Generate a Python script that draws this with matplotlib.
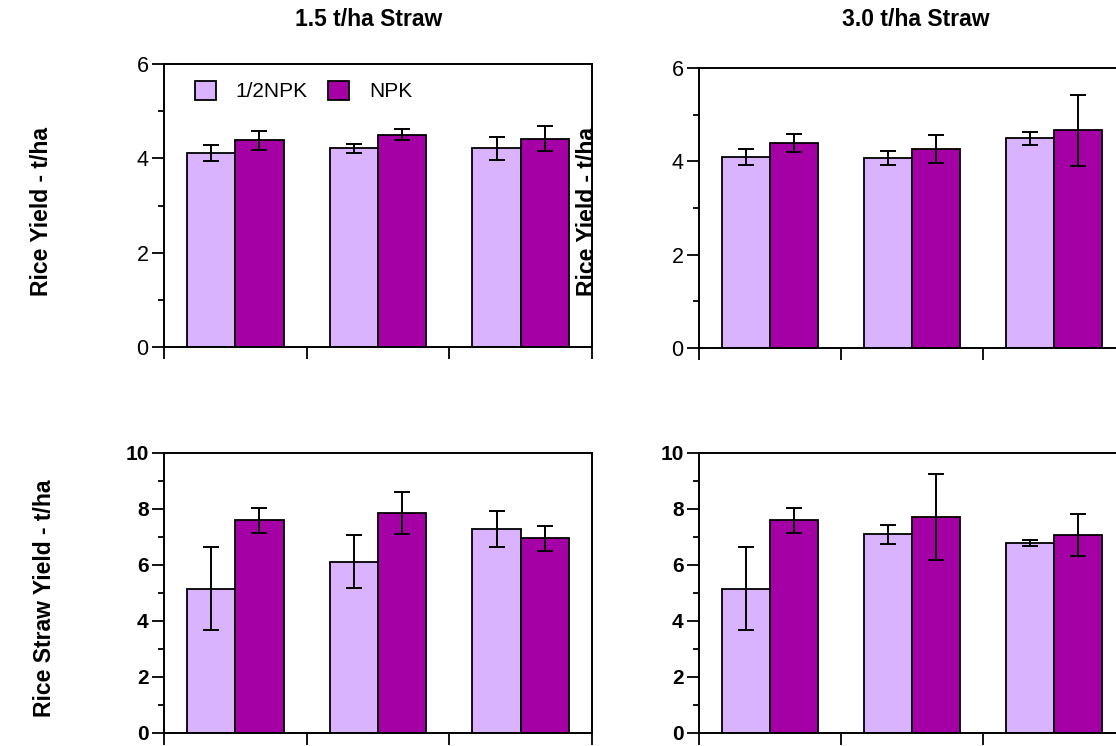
import matplotlib
matplotlib.use("Agg")
import matplotlib.pyplot as plt
from matplotlib.patches import Patch
from matplotlib.ticker import MultipleLocator, NullFormatter
import numpy as np

plt.rcParams['font.family'] = ['Liberation Sans', 'DejaVu Sans']

series = ["1/2NPK", "NPK"]
colors = ["#D9B3FE", "#A500A5"]
n_groups = 3

# Top-left: Rice yield, 1.5 t/ha straw
ry15_half = [4.12, 4.21, 4.21]
ry15_half_err = [0.17, 0.10, 0.25]
ry15_npk = [4.38, 4.50, 4.42]
ry15_npk_err = [0.20, 0.12, 0.27]

# Top-right: Rice yield, 3.0 t/ha straw
ry30_half = [4.10, 4.07, 4.49]
ry30_half_err = [0.17, 0.15, 0.13]
ry30_npk = [4.40, 4.27, 4.67]
ry30_npk_err = [0.19, 0.30, 0.76]

# Bottom-left: Rice straw yield, 1.5 t/ha straw
rs15_half = [5.15, 6.12, 7.29]
rs15_half_err = [1.48, 0.94, 0.63]
rs15_npk = [7.60, 7.87, 6.96]
rs15_npk_err = [0.45, 0.75, 0.45]

# Bottom-right: Rice straw yield, 3.0 t/ha straw
rs30_half = [5.15, 7.10, 6.80]
rs30_half_err = [1.48, 0.34, 0.11]
rs30_npk = [7.60, 7.72, 7.07]
rs30_npk_err = [0.45, 1.53, 0.75]

titles = ["1.5 t/ha Straw", "3.0 t/ha Straw"]
ylab_top = "Rice Yield - t/ha"
ylab_bot = "Rice Straw Yield - t/ha"

W, H = 1116, 746
fig = plt.figure(figsize=(W / 100, H / 100), dpi=100)


def px_axes(l, r, t, b):
    return fig.add_axes([l / W, (H - b) / H, (r - l) / W, (b - t) / H])


def draw(ax, half, half_err, npk, npk_err, ymax, bold):
    bw = 0.338
    centers = np.arange(n_groups) + 0.5
    ekw = dict(elinewidth=1.4, capthick=1.4, ecolor="black")
    ax.bar(centers - bw / 2, half, bw, yerr=half_err, color=colors[0],
           edgecolor="black", linewidth=1.3, capsize=5.5, error_kw=ekw, zorder=2)
    ax.bar(centers + bw / 2, npk, bw, yerr=npk_err, color=colors[1],
           edgecolor="black", linewidth=1.3, capsize=5.5, error_kw=ekw, zorder=2)
    ax.set_xlim(0, n_groups)
    ax.set_ylim(0, ymax)
    ax.set_xticks(np.arange(n_groups + 1))
    ax.xaxis.set_major_formatter(NullFormatter())
    ax.yaxis.set_major_locator(MultipleLocator(2))
    ax.yaxis.set_minor_locator(MultipleLocator(1))
    ax.tick_params(axis="both", which="major", length=8.6, width=1.3,
                   direction="out", labelsize=15 if bold else 15.5, pad=2.5)
    ax.tick_params(axis="y", which="minor", length=4.5, width=1.3)
    for s in ax.spines.values():
        s.set_linewidth(1.4)
    if bold:
        for lbl in ax.get_yticklabels():
            lbl.set_fontweight("bold")


ax1 = px_axes(164, 592, 64, 347)
draw(ax1, ry15_half, ry15_half_err, ry15_npk, ry15_npk_err, 6, False)
ax2 = px_axes(699, 1125, 68, 348)
draw(ax2, ry30_half, ry30_half_err, ry30_npk, ry30_npk_err, 6, False)
ax3 = px_axes(164, 592, 453, 733)
draw(ax3, rs15_half, rs15_half_err, rs15_npk, rs15_npk_err, 10, True)
ax4 = px_axes(699, 1125, 453, 733)
draw(ax4, rs30_half, rs30_half_err, rs30_npk, rs30_npk_err, 10, True)

handles = [Patch(facecolor=c, edgecolor="black", linewidth=1.3) for c in colors]
ax1.legend(handles, series, ncol=2, frameon=False, fontsize=15,
           loc="upper left", bbox_to_anchor=(0.072, 0.94),
           handlelength=1.0, handleheight=1.0, handletextpad=0.95,
           columnspacing=1.0, borderpad=0, borderaxespad=0)

fig.text(369 / W, 1 - 20 / H, titles[0], ha="center", va="center",
         fontsize=16.5, fontweight="bold")
fig.text(916 / W, 1 - 20 / H, titles[1], ha="center", va="center",
         fontsize=16.5, fontweight="bold")
fig.text(42 / W, 1 - 212 / H, ylab_top, rotation=90, ha="center", va="center",
         fontsize=16.5, fontweight="bold")
fig.text(588 / W, 1 - 212 / H, ylab_top, rotation=90, ha="center", va="center",
         fontsize=16.5, fontweight="bold")
fig.text(45 / W, 1 - 598 / H, ylab_bot, rotation=90, ha="center", va="center",
         fontsize=16.5, fontweight="bold")

fig.savefig("out.png", dpi=100)
